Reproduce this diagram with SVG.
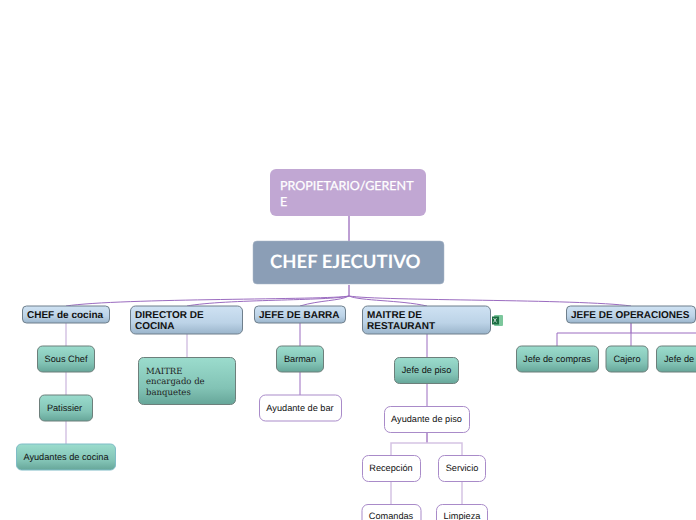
<svg xmlns="http://www.w3.org/2000/svg" width="696" height="520" viewBox="0 0 696 520">
<defs>
<linearGradient id="blue" x1="0" y1="0" x2="0" y2="1"><stop offset="0" stop-color="#cfe2f3"/><stop offset="0.6" stop-color="#bcd3e7"/><stop offset="1" stop-color="#9ab4cb"/></linearGradient>
<linearGradient id="teal" x1="0" y1="0" x2="0" y2="1"><stop offset="0" stop-color="#9bdccd"/><stop offset="0.65" stop-color="#82c3b5"/><stop offset="1" stop-color="#66a699"/></linearGradient>
</defs>
<style>
.b{fill:url(#blue);stroke:#6f7f8c;stroke-width:1}
.t{fill:url(#teal);stroke:#6d7f7b;stroke-width:1}
.w{fill:#fff;stroke:#a98bc9;stroke-width:1}
text{font-family:"Liberation Sans",Arial,sans-serif;fill:#111;text-rendering:geometricPrecision}
.bt{font-size:10px;font-weight:700}
.st{font-size:9.200px}
.c{text-anchor:middle}
.l{fill:none;stroke:#9b6cc0;stroke-width:1}
.dk{fill:none;stroke:#7d3fa8;stroke-width:1}
.lt{fill:none;stroke:#d5c3e3;stroke-width:1.500}
.lato{font-family:Lato,sans-serif;fill:#fff}
.sl{font-family:"DejaVu Serif",serif;fill:#222;font-size:8.500px}
</style>
<g id="connectors">
<path class="dk" d="M349 216V241M349 285V296"/>
<path class="l" d="M349 296C330 300 120 298 66 306"/>
<path class="l" d="M349 296C330 301 225 299 187 306"/>
<path class="l" d="M349 296C340 301 320 300 300 306"/>
<path class="l" d="M349 296C360 301 400 300 427 306"/>
<path class="l" d="M349 296C380 301 580 299 631 306"/>
<path class="lt" d="M66 323V346M66 372V395M66 421V444M187 334V357"/>
<path class="l" d="M300 323V346M300 372V395M427 334V357M427 384V406"/>
<path class="dk" d="M427 432V443"/>
<path class="lt" d="M391 455V443H462V455M391 481V504M462 481V504"/>
<path class="dk" d="M631 323V333"/>
<path class="l" d="M557 346V333H696M631 333V346"/>
</g>
<g id="n-propietario"><rect x="270" y="169" width="156" height="47" rx="6" fill="#c1a7d3"/><text class="lato" x="280" y="189.500" font-size="12.500" stroke="#fff" stroke-width="0.250">PROPIETARIO/GERENT</text><text class="lato" x="280" y="205.500" font-size="12.500" stroke="#fff" stroke-width="0.250">E</text></g>
<g id="n-chef-ejecutivo"><rect x="253" y="241" width="191" height="43" rx="4" fill="#8b9eb6" stroke="#a9b5c5" stroke-width="0.500"/><text class="lato" x="270" y="267.500" font-size="18.500" font-weight="700">CHEF EJECUTIVO</text></g>
<g id="n-chef-cocina"><rect class="b" x="22.500" y="306" width="87" height="17" rx="4"/><text class="bt" x="27" y="318">CHEF de cocina</text></g>
<g id="n-director"><rect class="b" x="130.500" y="306" width="112" height="28" rx="5"/><text class="bt" x="135" y="318">DIRECTOR DE</text><text class="bt" x="135" y="329">COCINA</text></g>
<g id="n-jefe-barra"><rect class="b" x="254.500" y="306" width="91" height="17" rx="4"/><text class="bt" x="259" y="318">JEFE DE BARRA</text></g>
<g id="n-maitre-rest"><rect class="b" x="362.500" y="306" width="128" height="28" rx="5"/><text class="bt" x="367" y="318">MAITRE DE</text><text class="bt" x="367" y="329">RESTAURANT</text></g>
<g id="n-excel-icon"><rect x="494" y="315" width="9" height="11" rx="1" fill="#7cc79c"/><rect x="492" y="316.500" width="7" height="8" fill="#1b6e42"/><path d="M493.500 318l3 4.500M496.500 318l-3 4.500" stroke="#fff" stroke-width="0.700" fill="none"/></g>
<g id="n-jefe-op"><rect class="b" x="566.500" y="306" width="129" height="17" rx="4"/><text class="bt" x="571" y="318">JEFE DE OPERACIONES</text></g>
<g id="n-sous"><rect class="t" x="37.500" y="346" width="57" height="26" rx="5"/><text class="st c" x="66" y="362">Sous Chef</text></g>
<g id="n-patissier"><rect class="t" x="39.500" y="395" width="53" height="26" rx="5"/><text class="st c" x="64.500" y="411">Patissier</text></g>
<g id="n-ayudantes"><rect x="16.500" y="444" width="99" height="26" rx="5" fill="url(#teal)" stroke="#7fbcc6"/><text class="st c" x="66" y="460">Ayudantes de cocina</text></g>
<g id="n-maitre"><rect class="t" x="138.500" y="357.500" width="97" height="47" rx="5"/><text class="sl" x="146" y="374">MAITRE</text><text class="sl" x="146" y="384">encargado de</text><text class="sl" x="146" y="395">banquetes</text></g>
<g id="n-barman"><rect class="t" x="276.500" y="346" width="47" height="26" rx="5"/><text class="st c" x="300" y="362">Barman</text></g>
<g id="n-ayud-bar"><rect class="w" x="259.500" y="395" width="82" height="26" rx="6"/><text class="st c" x="300" y="411">Ayudante de bar</text></g>
<g id="n-jefe-piso"><rect class="t" x="394.500" y="357.500" width="64" height="26" rx="5"/><text class="st c" x="426.500" y="373">Jefe de piso</text></g>
<g id="n-ayud-piso"><rect class="w" x="384.500" y="406.500" width="85" height="26" rx="6"/><text class="st c" x="426.500" y="422">Ayudante de piso</text></g>
<g id="n-recepcion"><rect class="w" x="362.500" y="455.500" width="58" height="26" rx="6"/><text class="st c" x="391" y="471">Recepción</text></g>
<g id="n-servicio"><rect class="w" x="438.500" y="455.500" width="47" height="26" rx="6"/><text class="st c" x="462" y="471">Servicio</text></g>
<g id="n-comandas"><rect class="w" x="362" y="504.500" width="59" height="26" rx="6"/><text class="st c" x="391" y="519">Comandas</text></g>
<g id="n-limpieza"><rect class="w" x="436.500" y="504.500" width="51" height="26" rx="6"/><text class="st c" x="462" y="519">Limpieza</text></g>
<g id="n-compras"><rect class="t" x="516.500" y="346" width="82" height="26" rx="5"/><text class="st c" x="557" y="362">Jefe de compras</text></g>
<g id="n-cajero"><rect class="t" x="606" y="346" width="42" height="26" rx="5"/><text class="st c" x="627" y="362">Cajero</text></g>
<g id="n-jefe-de"><rect class="t" x="656.500" y="346" width="60" height="26" rx="5"/><text class="st" x="664" y="362">Jefe de</text></g>
</svg>
